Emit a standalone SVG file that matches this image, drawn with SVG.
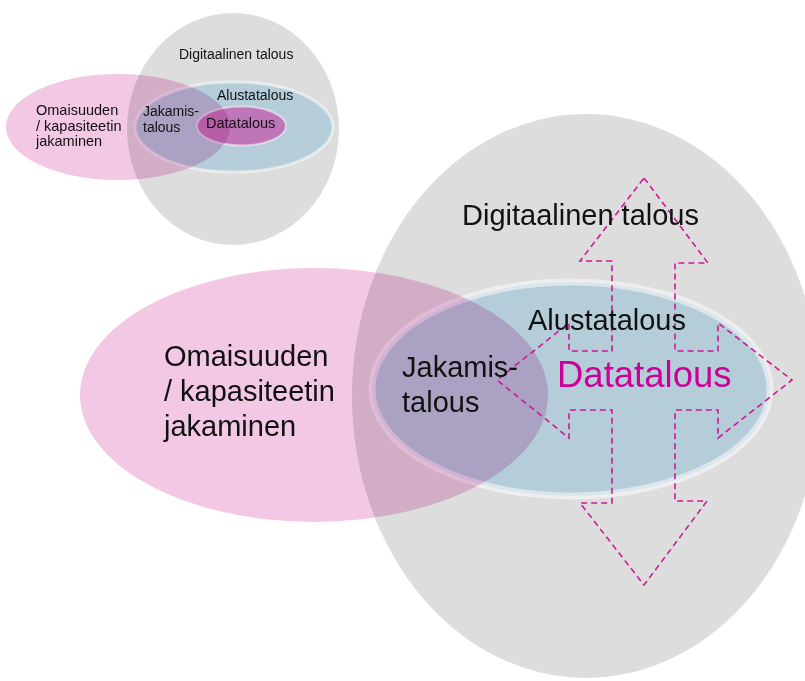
<svg xmlns="http://www.w3.org/2000/svg" width="805" height="681" viewBox="0 0 805 681">
<style>
.grey{fill:#dddddd}
.blue{fill:#b4cdd9;stroke:#ffffff;stroke-opacity:0.5}
.pink{fill:#f2c8e5;mix-blend-mode:multiply}
.data{fill:#bf76b9;stroke:#ffffff;stroke-opacity:0.5}
.t{font-family:"Liberation Sans",Arial,sans-serif;fill:#111111}
.mag{fill:#cc0099}
.arrow{fill:none;stroke:#cc1a96;stroke-width:1.6;stroke-dasharray:6 4}
</style>
<rect width="805" height="681" fill="#ffffff"/>
<g id="small">
  <g id="s-digital"><ellipse class="grey" cx="233" cy="129" rx="106" ry="116"/></g>
  <g id="s-alusta"><ellipse class="blue" cx="234" cy="127" rx="99" ry="45" stroke-width="3"/></g>
  <g id="s-data"><ellipse class="data" cx="241.5" cy="126" rx="44.5" ry="19.5" stroke-width="2"/></g>
  <g id="s-jakaminen"><ellipse class="pink" cx="118" cy="127" rx="112" ry="53"/></g>
  <g id="s-labels" class="t" font-size="14">
    <text x="179" y="59">Digitaalinen talous</text>
    <text x="217" y="100">Alustatalous</text>
    <text x="143" y="116">Jakamis-</text>
    <text x="143" y="131.5">talous</text>
    <text x="206" y="127.5" font-size="14.5">Datatalous</text>
    <text x="36" y="115" font-size="14.5">Omaisuuden</text>
    <text x="36" y="130.5" font-size="14.5">/ kapasiteetin</text>
    <text x="36" y="146" font-size="14.5">jakaminen</text>
  </g>
</g>
<g id="large">
  <g id="digital"><ellipse class="grey" cx="586" cy="396" rx="234" ry="282"/></g>
  <g id="alusta"><ellipse class="blue" cx="571" cy="389" rx="199" ry="107" stroke-width="7"/></g>
  <g id="jakaminen"><ellipse class="pink" cx="314" cy="395" rx="234" ry="127"/></g>
  <g id="connectors">
    <polygon class="arrow" points="644,178 708,263 675,263 675,351 718,351 718,323 792,380 718,438 718,410 675,410 675,501 707,501 644,585 580,503 612,503 612,410 569,410 569,438 497,380 569,323 569,351 612,351 612,261 580,261"/>
  </g>
  <g id="labels" class="t" font-size="29">
    <text x="462" y="225">Digitaalinen talous</text>
    <text x="528" y="330">Alustatalous</text>
    <text x="402" y="377">Jakamis-</text>
    <text x="402" y="412">talous</text>
    <text x="164" y="366">Omaisuuden</text>
    <text x="164" y="401">/ kapasiteetin</text>
    <text x="164" y="436">jakaminen</text>
    <text class="mag" x="557" y="387" font-size="36.5">Datatalous</text>
  </g>
</g>
</svg>
